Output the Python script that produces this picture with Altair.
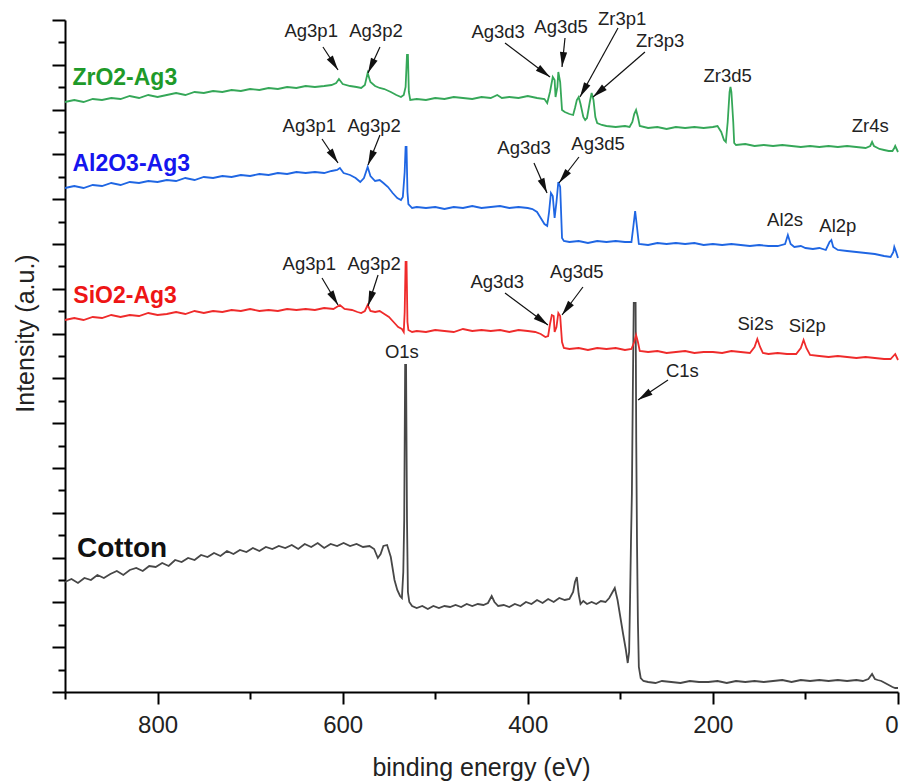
import math
import altair as alt
import pandas as pd

# ---------------- data (binding energy in eV, intensity in arbitrary units) ----------------
cotton_E = [900, 893, 886, 879, 872, 865, 858, 851, 844, 837, 830, 823, 816, 809, 802, 795, 788, 781, 774, 767,
            760, 753, 746, 739, 732, 725, 718, 711, 704, 697, 690, 683, 676, 669, 662, 655, 648, 641, 634, 627,
            620, 613, 606, 599, 592, 585, 578, 571, 566, 562, 559, 556, 552, 548, 544, 541, 538, 536, 534.5, 533.5,
            532.5, 531.5, 530.5, 529.5, 528, 525, 520, 514, 508, 502, 496, 490, 484, 478, 472, 466, 460, 454, 448, 443,
            439, 436, 432, 426, 420, 414, 408, 402, 396, 390, 384, 378, 372, 366, 360, 355, 351, 349, 347, 345,
            343, 340, 336, 331, 326, 321, 316, 312, 309, 306, 303, 300, 297, 294, 292, 290.5, 289.5, 288.5, 287.5, 286.5,
            285.5, 283.5, 282.8, 282, 281, 280, 278, 275, 270, 262, 255, 245, 235, 225, 215, 205, 195, 185, 175, 165,
            155, 145, 135, 125, 115, 105, 95, 85, 75, 65, 55, 45, 38, 32, 28, 25, 22, 18, 14, 10, 6, 3, 0]
cotton_I = [110, 113, 109, 114, 112, 117, 114, 118, 121, 117, 122, 124, 121, 126, 125, 129, 126, 132, 130, 134,
            132, 137, 135, 139, 136, 141, 138, 142, 140, 144, 141, 145, 143, 146, 144, 147, 143, 148, 145, 149,
            144, 148, 146, 149, 146, 148, 145, 146, 143, 134, 138, 146, 147, 135, 112, 102, 96, 94, 120, 172,
            327, 327, 172, 100, 90, 86, 84, 86, 83, 86, 84, 86, 85, 87, 85, 88, 86, 88, 87, 89,
            96, 90, 86, 87, 85, 88, 86, 90, 88, 92, 89, 93, 90, 94, 92, 93, 100, 110, 115, 98,
            88, 91, 88, 90, 88, 91, 90, 94, 99, 104, 92, 75, 58, 42, 29, 40, 92, 150, 199, 300,
            389, 389, 250, 150, 70, 25, 14, 11, 10, 9, 11, 10, 9, 11, 10, 10, 11, 9, 11, 10,
            11, 10, 11, 12, 10, 12, 11, 12, 11, 12, 11, 12, 11, 13, 18, 13, 12, 11, 9, 7, 5, 4, 4]

sio2_E = [900, 890, 880, 870, 860, 850, 840, 830, 820, 810, 800, 790, 780, 770, 760, 750, 740, 730, 720, 710,
          700, 690, 680, 670, 660, 650, 640, 630, 620, 610, 603, 598, 590, 584, 580, 576, 573, 570, 565, 560,
          555, 550, 545, 540, 536, 534, 533, 532, 531, 530, 529, 525, 520, 510, 500, 490, 480, 470, 460, 450,
          440, 430, 420, 410, 400, 392, 386, 381, 378, 376, 374, 372, 371, 369, 367, 365, 363, 361, 355, 345,
          335, 325, 315, 305, 295, 288, 285, 283, 281, 279, 270, 260, 250, 240, 230, 220, 210, 200, 190, 180,
          170, 160, 155, 152, 149, 146, 140, 130, 120, 110, 105, 102, 99, 95, 85, 75, 65, 55, 45, 35,
          25, 15, 8, 5, 3, 1, 0]
sio2_I = [372, 374, 372, 375, 374, 377, 375, 377, 376, 379, 377, 378, 380, 378, 381, 379, 381, 380, 382, 381,
          383, 381, 382, 381, 383, 382, 383, 382, 384, 383, 387, 383, 382, 380, 379, 381, 387, 381, 380, 381,
          378, 375, 370, 365, 363, 360, 380, 430, 430, 370, 362, 360, 361, 360, 362, 361, 360, 363, 361, 362,
          361, 362, 360, 362, 361, 360, 358, 355, 356, 368, 377, 376, 360, 365, 379, 376, 350, 344, 343, 344,
          342, 344, 343, 344, 342, 343, 350, 357, 350, 341, 340, 341, 339, 340, 341, 339, 340, 340, 339, 341,
          340, 339, 345, 353, 345, 339, 338, 339, 338, 338, 344, 352, 344, 337, 336, 335, 336, 335, 334, 335,
          334, 333, 333, 336, 338, 334, 332]

al2o3_E = [900, 890, 880, 870, 860, 850, 840, 830, 820, 810, 800, 790, 780, 770, 760, 750, 740, 730, 720, 710,
           700, 690, 680, 670, 660, 650, 640, 630, 620, 612, 606, 603, 599, 592, 586, 581, 577, 573, 570, 565,
           560, 556, 551, 546, 541, 537, 535, 533, 532, 531, 530, 529, 525, 520, 510, 500, 490, 480, 470, 460,
           450, 440, 430, 420, 410, 400, 395, 390, 386, 382, 379, 377, 375, 373, 371, 369, 367, 365, 363, 361,
           355, 345, 335, 325, 315, 305, 295, 288, 286, 284, 282, 280, 270, 260, 250, 240, 230, 220, 210, 200,
           190, 180, 170, 160, 150, 140, 130, 122, 119, 116, 112, 105, 100, 92, 85, 78, 74, 72, 70, 65,
           55, 45, 35, 25, 15, 8, 5, 4, 2, 0]
al2o3_I = [504, 506, 504, 507, 506, 509, 507, 510, 509, 511, 510, 512, 511, 514, 512, 515, 514, 516, 515, 517,
           516, 518, 517, 519, 518, 520, 519, 520, 519, 521, 522, 524, 519, 517, 514, 510, 514, 525, 516, 511,
           512, 509, 505, 499, 494, 492, 495, 520, 545, 545, 500, 488, 484, 485, 484, 485, 483, 485, 484, 486,
           484, 485, 486, 484, 485, 484, 483, 480, 474, 468, 466, 480, 499, 496, 474, 490, 510, 505, 454, 451,
           450, 451, 449, 451, 450, 451, 450, 450, 465, 481, 465, 448, 447, 449, 448, 449, 448, 449, 447, 448,
           447, 448, 447, 446, 447, 446, 446, 448, 457, 448, 445, 446, 444, 443, 444, 442, 450, 452, 445, 442,
           441, 440, 439, 438, 436, 435, 440, 445, 440, 434]

zro2_E = [900, 890, 880, 870, 860, 850, 840, 830, 820, 810, 800, 790, 780, 770, 760, 750, 740, 730, 720, 710,
          700, 690, 680, 670, 660, 650, 640, 630, 620, 612, 607, 604, 600, 592, 585, 580, 576, 573, 570, 565,
          560, 555, 548, 542, 537, 534, 532, 530.5, 529.5, 528.5, 527, 520, 510, 500, 490, 480, 470, 460, 450, 440,
          433, 428, 420, 410, 400, 390, 382, 379, 376, 373, 371, 370, 368, 367, 365, 363, 360, 355, 351, 349,
          347, 345, 343, 340, 338, 336, 333, 331, 329, 327, 325, 320, 315, 305, 295, 290, 287, 285, 283, 281,
          279, 270, 260, 250, 240, 230, 220, 210, 200, 195, 191, 188, 186, 184, 182, 181, 180, 178, 177, 175,
          165, 155, 145, 135, 125, 115, 105, 95, 85, 75, 65, 55, 45, 35, 30, 28, 26, 20, 15, 10,
          6, 4, 3, 1, 0]
zro2_I = [590, 592, 590, 593, 592, 594, 593, 596, 594, 597, 595, 597, 599, 597, 600, 599, 601, 600, 602, 601,
          603, 602, 604, 603, 605, 604, 606, 605, 606, 607, 609, 613, 608, 606, 605, 604, 607, 619, 610, 606,
          604, 603, 600, 597, 595, 597, 605, 637, 637, 600, 592, 593, 592, 594, 593, 595, 594, 593, 595, 594,
          597, 594, 595, 594, 596, 594, 593, 589, 600, 615, 612, 595, 605, 620, 610, 582, 580, 578, 577, 584,
          592, 595, 588, 575, 572, 574, 590, 599, 592, 575, 569, 567, 566, 565, 566, 565, 570, 578, 582, 575,
          566, 564, 565, 563, 565, 564, 565, 564, 565, 566, 560, 552, 550, 570, 600, 605, 600, 570, 549, 547,
          548, 546, 547, 546, 547, 546, 545, 546, 545, 546, 545, 546, 545, 544, 546, 550, 546, 543, 542, 541,
          541, 544, 546, 542, 540]

series_names = ["Cotton", "SiO2-Ag3", "Al2O3-Ag3", "ZrO2-Ag3"]
line_colors = ["#474747", "#ef2b2b", "#1f66e3", "#35a758"]
label_colors = ["#111111", "#ee1515", "#1515ee", "#1e9a2a"]

# series labels
series_label_E = [887, 891, 892, 892]
series_label_I = [135, 389, 521, 607]
series_label_size = [28, 23, 23, 23]

# peak annotations
ann_text = ["Ag3p1", "Ag3p2", "Ag3d3", "Ag3d5", "Zr3p1", "Zr3p3", "Zr3d5", "Zr4s",
            "Ag3p1", "Ag3p2", "Ag3d3", "Ag3d5", "Al2s", "Al2p",
            "Ag3p1", "Ag3p2", "Ag3d3", "Ag3d5", "Si2s", "Si2p", "O1s", "C1s"]
ann_E = [634, 564, 432, 364, 298, 257, 184, 30,
         636, 566, 404, 324, 122, 65,
         636, 566, 433, 347, 154, 98, 536, 233]
ann_I = [655, 655, 654, 659, 667, 645, 610, 560,
         560, 560, 538, 542, 466, 460,
         422, 422, 404, 414, 362, 360, 334, 315]

# arrows: start (E1, I1) -> tip (E2, I2)
arr_E1 = [621.3, 559.7, 424.6, 359.8, 302.5, 273.4, 622.3, 559.7, 393.3, 344.7, 622.3, 561.8, 424.6, 340.4, 248.5]
arr_I1 = [645, 645, 649, 654, 664, 640, 553, 557, 529, 535, 414, 417, 399, 405, 312]
arr_E2 = [605.0, 572.6, 376.0, 363.0, 343.6, 329.5, 605.0, 572.6, 379.2, 366.3, 605.0, 572.6, 378.2, 363.0, 280.9]
arr_I2 = [622, 619, 615, 625, 595, 595, 529, 527, 499, 509, 387, 386, 367, 377, 292]

x_ticks = [900, 800, 700, 600, 500, 400, 300, 200, 100, 0]
y_ticks = [round(i * 22.4, 1) for i in range(31)]

# ---------------- build ----------------
W, H = 833, 672
FONT = "Liberation Sans"

frames = []
for name, E, I in [("Cotton", cotton_E, cotton_I), ("SiO2-Ag3", sio2_E, sio2_I),
                   ("Al2O3-Ag3", al2o3_E, al2o3_I), ("ZrO2-Ag3", zro2_E, zro2_I)]:
    frames.append(pd.DataFrame({"E": E, "I": I, "series": name, "idx": range(len(E))}))
lines_df = pd.concat(frames, ignore_index=True)

slab_df = pd.DataFrame({"E": series_label_E, "I": series_label_I, "label": series_names,
                        "col": label_colors, "fs": series_label_size})
ann_df = pd.DataFrame({"E": ann_E, "I": ann_I, "label": ann_text})

angles = []
for e1, i1, e2, i2 in zip(arr_E1, arr_I1, arr_E2, arr_I2):
    dx = (e1 - e2) * W / 900.0
    dy = -(i2 - i1) * H / 672.0
    angles.append(math.degrees(math.atan2(dx, -dy)) % 360)
arr_df = pd.DataFrame({"E": arr_E1, "I": arr_I1, "E2": arr_E2, "I2": arr_I2, "ang": angles})
head_df = pd.DataFrame({"E": arr_E2, "I": arr_I2, "ang": angles})

x_scale = alt.Scale(domain=[900, 0], nice=False, zero=False)
y_scale = alt.Scale(domain=[0, 672], nice=False, zero=False)

x_axis = alt.Axis(
    values=x_ticks, title="binding energy (eV)",
    labelExpr="datum.value % 200 == 0 ? datum.label : ''",
    tickSize={"condition": {"test": "datum.value % 200 == 0", "value": 12}, "value": 7},
    labelPadding=9, titleX=416, titleY=83, titleBaseline="alphabetic", titleAnchor="middle",
)
y_axis = alt.Axis(
    values=y_ticks, labels=False, title="Intensity (a.u.)",
    tickSize={"condition": {"test": "abs(datum.value / 44.8 - round(datum.value / 44.8)) < 0.01",
                            "value": 13}, "value": 7},
    titleX=-40, titleY=313, titleBaseline="middle", titleAlign="center", titleAngle=270,
)

X = alt.X("E:Q", scale=x_scale, axis=x_axis)
Y = alt.Y("I:Q", scale=y_scale, axis=y_axis)

lines = alt.Chart(lines_df).mark_line(strokeWidth=1.8).encode(
    x=X, y=Y, order="idx:Q",
    color=alt.Color("series:N", scale=alt.Scale(domain=series_names, range=line_colors), legend=None),
    detail="series:N",
)

series_labels = alt.Chart(slab_df).mark_text(
    align="left", baseline="alphabetic", font=FONT, fontWeight="bold"
).encode(
    x=X, y=Y, text="label:N",
    color=alt.Color("col:N", scale=None),
    size=alt.Size("fs:Q", scale=None),
)

ann = alt.Chart(ann_df).mark_text(
    align="center", baseline="alphabetic", font=FONT, fontSize=18.5, color="#222222"
).encode(x=X, y=Y, text="label:N")

arrows = alt.Chart(arr_df).mark_rule(color="#111111", strokeWidth=1.2).encode(
    x=X, y=Y, x2="E2:Q", y2="I2:Q"
)

heads = alt.Chart(head_df).mark_point(
    shape="M0,0L0.36,1.5L-0.36,1.5Z", filled=True, size=400, color="#111111", opacity=1, strokeWidth=0
).encode(x=X, y=Y, angle=alt.Angle("ang:Q", scale=None))

chart = alt.layer(lines, arrows, heads, ann, series_labels).properties(
    width=W, height=H,
    padding={"left": 65, "top": 20, "right": 15, "bottom": 92},
    autosize=alt.AutoSizeParams(type="none"),
).configure_view(stroke=None).configure_axis(
    domainColor="#000000", domainWidth=2, tickColor="#000000", tickWidth=2,
    labelFont=FONT, labelFontSize=24, labelColor="#222222",
    titleFont=FONT, titleFontSize=25, titleFontWeight="normal", titleColor="#222222",
    grid=False,
)

chart.save("out.html", embed_options={"renderer": "svg", "actions": False})
